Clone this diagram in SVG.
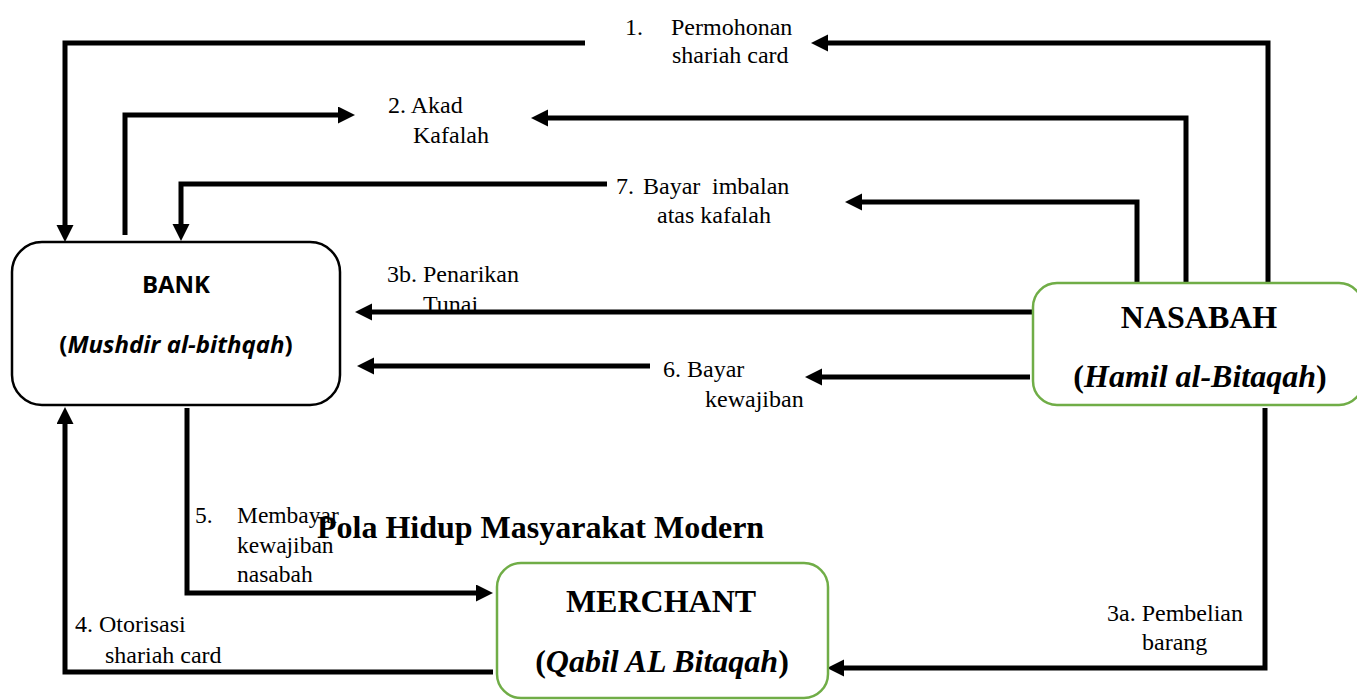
<svg xmlns="http://www.w3.org/2000/svg" width="1357" height="700" viewBox="0 0 1357 700">
<style>
.ln{fill:none;stroke:#000;stroke-width:5;stroke-linejoin:miter}
.lbl{font-family:"Liberation Serif","Times New Roman",serif;font-size:24px;fill:#000}
.sm{font-size:23.5px}
.bt{font-family:"Liberation Serif","Times New Roman",serif;font-size:32px;font-weight:bold;fill:#000}
.cal{font-family:"Open Sans",Lato,sans-serif;font-size:24px;font-weight:bold;fill:#000}
.gbox{fill:#fff;stroke:#70AD47;stroke-width:2.5}
.kbox{fill:#fff;stroke:#000;stroke-width:2.5}
</style>
<defs>
<marker id="ah" markerUnits="userSpaceOnUse" markerWidth="18" markerHeight="18" refX="2" refY="8.5" orient="auto">
<path d="M0,0 L17,8.5 L0,17 z" fill="#000"/>
</marker>
</defs>
<g id="connectors">
<path class="ln" d="M1268,282 V43 H826" marker-end="url(#ah)"/>
<path class="ln" d="M585,43 H65 V227" marker-end="url(#ah)"/>
<path class="ln" d="M125,235 V115 H340" marker-end="url(#ah)"/>
<path class="ln" d="M1186,282 V118 H546" marker-end="url(#ah)"/>
<path class="ln" d="M1137,282 V202 H860" marker-end="url(#ah)"/>
<path class="ln" d="M607,184 H181 V226" marker-end="url(#ah)"/>
<path class="ln" d="M1035,312 H370" marker-end="url(#ah)"/>
<path class="ln" d="M1030,377 H820" marker-end="url(#ah)"/>
<path class="ln" d="M650,366 H372" marker-end="url(#ah)"/>
<path class="ln" d="M187,408 V593 H478" marker-end="url(#ah)"/>
<path class="ln" d="M493,672 H65 V422" marker-end="url(#ah)"/>
<path class="ln" d="M1265,408 V668 H842" marker-end="url(#ah)"/>
</g>
<g id="labels">
<text class="lbl" x="625" y="35">1.</text>
<text class="lbl" x="671" y="35">Permohonan</text>
<text class="lbl" x="672" y="63">shariah card</text>
<text class="lbl" x="388" y="113">2. Akad</text>
<text class="lbl" x="413" y="143">Kafalah</text>
<text class="lbl" y="194"><tspan x="616">7.</tspan><tspan x="643">Bayar</tspan><tspan x="712">imbalan</tspan></text>
<text class="lbl" x="657" y="223">atas kafalah</text>
<text class="lbl" x="387" y="282">3b. Penarikan</text>
<text class="lbl" x="423" y="312">Tunai</text>
<text class="lbl" x="663" y="377">6. Bayar</text>
<text class="lbl" x="705" y="407">kewajiban</text>
<text class="lbl sm" x="195" y="523">5.</text>
<text class="lbl sm" x="237" y="523">Membayar</text>
<text class="lbl sm" x="237" y="553">kewajiban</text>
<text class="lbl sm" x="237" y="582">nasabah</text>
<text class="lbl" x="75" y="632">4. Otorisasi</text>
<text class="lbl" x="105" y="663">shariah card</text>
<text class="lbl" x="1107" y="621">3a. Pembelian</text>
<text class="lbl" x="1142" y="650">barang</text>
</g>
<g id="title">
<text class="bt" x="317" y="538">Pola Hidup Masyarakat Modern</text>
</g>
<g id="bank">
<rect class="kbox" x="12" y="242" width="328" height="163" rx="30"/>
<text class="cal" x="176" y="293" text-anchor="middle">BANK</text>
<text class="cal" x="176" y="353" text-anchor="middle">(<tspan font-style="italic">Mushdir al-bithqah</tspan>)</text>
</g>
<g id="nasabah">
<rect class="gbox" x="1033" y="283" width="330" height="122" rx="24"/>
<text class="bt" x="1199" y="328" text-anchor="middle">NASABAH</text>
<text class="bt" x="1200" y="387" text-anchor="middle">(<tspan font-style="italic">Hamil al-Bitaqah</tspan>)</text>
</g>
<g id="merchant">
<rect class="gbox" x="497" y="563" width="331" height="135" rx="24"/>
<text class="bt" x="661" y="612" text-anchor="middle">MERCHANT</text>
<text class="bt" x="662" y="672" text-anchor="middle">(<tspan font-style="italic">Qabil AL Bitaqah</tspan>)</text>
</g>
</svg>
